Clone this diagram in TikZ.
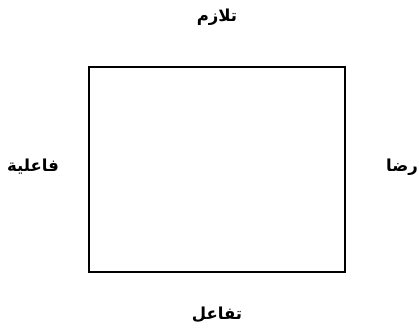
\documentclass[tikz,border=0pt]{standalone}
\usepackage{fontspec}
\TeXXeTstate=1
\newfontfamily\arabicfont[Script=Arabic]{DejaVu Sans}
\begin{document}
\begin{tikzpicture}[x=1pt,y=-1pt,
  lbl/.style={font=\arabicfont\bfseries\fontsize{16.5}{19}\selectfont, inner sep=0pt, anchor=center}]
\useasboundingbox (0,0) rectangle (419,328);
\node[draw, line width=1.8pt, minimum width=256pt, minimum height=205pt, inner sep=0pt] (box) at (217,169.5) {};
\node[lbl] (top) at (217,17) {\beginR تلازم\endR};
\node[lbl] (left) at (33,167) {\beginR فاعلية\endR};
\node[lbl] (right) at (402,167) {\beginR رضا\endR};
\node[lbl] (bottom) at (217,315) {\beginR تفاعل\endR};
\end{tikzpicture}
\end{document}
